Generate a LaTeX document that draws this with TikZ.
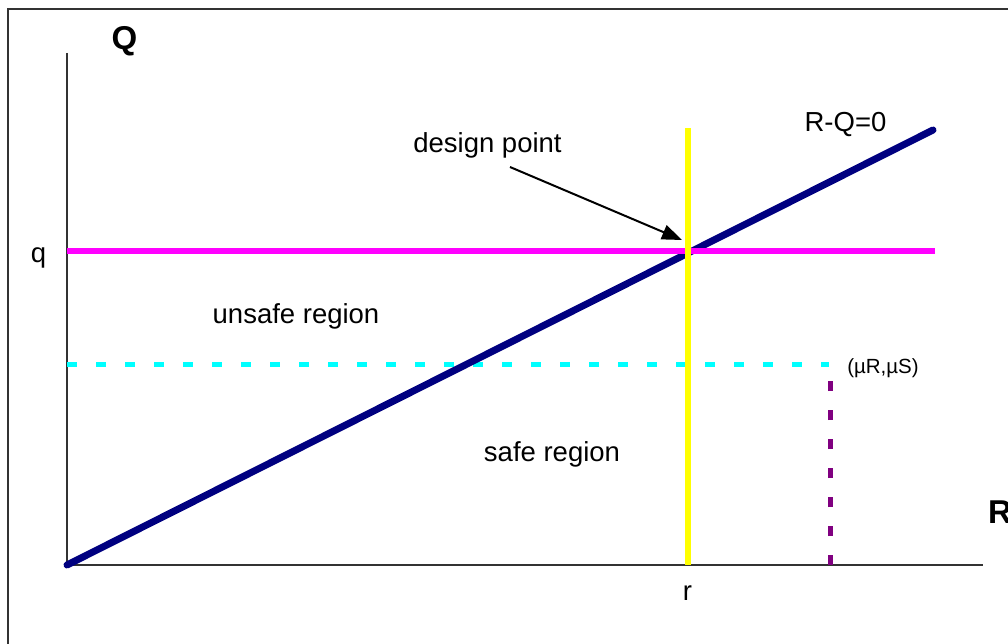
\documentclass[tikz,border=0pt]{standalone}
\usepackage{fontspec}
\setmainfont{Liberation Sans}
\usetikzlibrary{arrows.meta}
\definecolor{navyline}{HTML}{000080}
\definecolor{purpleline}{HTML}{800080}
\definecolor{magline}{HTML}{FF00FF}
\definecolor{cyanline}{HTML}{00FFFF}
\definecolor{yelline}{HTML}{FFFF00}
\tikzset{
  lab/.style={inner sep=0pt,anchor=base,font=\fontsize{27.5}{30}\selectfont},
  axislab/.style={inner sep=0pt,anchor=base,font=\fontsize{33}{36}\selectfont\bfseries},
  axisline/.style={draw=black!80,line width=1.5pt},
  dashline/.style={line width=5pt,dash pattern=on 10pt off 19pt}
}
\begin{document}
\begin{tikzpicture}[x=1pt,y=-1pt]
		\useasboundingbox (0,0) rectangle (1008,644);
		% Marc
		\draw[black!80,line width=2pt] (8,9) rectangle (1030,670);

		% Eixos
		\coordinate (O) at (67,565);
		\coordinate (Ytop) at (67,53);
		\coordinate (Xend) at (983,565);
		\draw[axisline] (Ytop) -- (O) -- (Xend);

		% Punts de les rectes
		\coordinate (Lend) at (933,130);
		\coordinate (Qa) at (67,251);
		\coordinate (Qb) at (935,251);
		\coordinate (Ra) at (688,128);
		\coordinate (Rb) at (688,565);
		\coordinate (Ma) at (67,364);
		\coordinate (Mb) at (829,364);
		\coordinate (Mc) at (830,565);
		\coordinate (Md) at (830,380);

		% Rectes mitjanes
		\draw[dashline,cyanline] (Ma) -- (Mb);
		\draw[dashline,purpleline] (Mc) -- (Md);

		% Recta limit i rectes del punt de disseny
		\draw[navyline,line width=7pt,line cap=round] (O) -- (Lend);
		\draw[magline,line width=6pt] (Qa) -- (Qb);
		\draw[yelline,line width=6pt] (Ra) -- (Rb);

		% Etiquetes
		\node[axislab] (Qlab) at (124.5,50) {Q};
		\node[axislab,anchor=base west] (Rlab) at (988,523) {R};
		\node[lab] (qlab) at (38.5,262) {q};
		\node[lab] (rlab) at (687.5,600) {r};
		\node[lab] (dplab) at (487.5,153) {design point};
		\node[lab] (limlab) at (845.5,132) {R-Q=0};
		\node[lab] (unsafe) at (296,323) {unsafe region};
		\node[lab] (safe) at (552,461) {safe region};
		\node[inner sep=0pt,anchor=base,font=\fontsize{20.5}{22}\selectfont] (mulab) at (883,373) {(µR,µS)};

		% Fletxa
		\coordinate (As) at (510,167);
		\coordinate (At) at (682,240);
		\draw[line width=2pt,-{Triangle[length=20pt,width=15pt]}] (As) -- (At);
	\end{tikzpicture}
\end{document}
